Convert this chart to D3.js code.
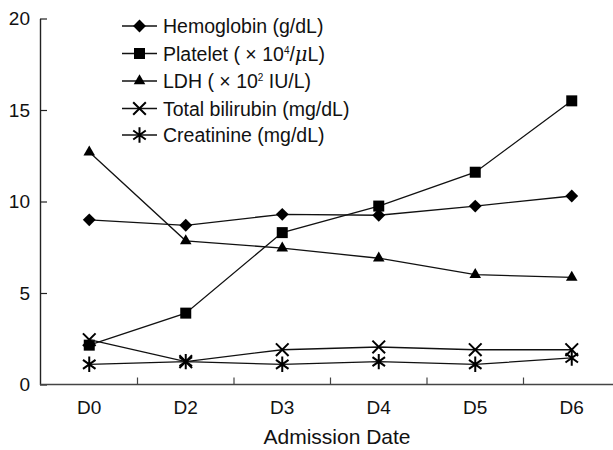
<!DOCTYPE html>
<html>
<head>
<meta charset="utf-8">
<script src="https://cdn.jsdelivr.net/npm/d3@7"></script>
<style>
  body { margin: 0; background: #fff; }
  svg text { font-family: "Liberation Sans", Arial, sans-serif; fill: #111; }
</style>
</head>
<body>
<svg id="canvas"></svg>
<script>
let categories = ["D0", "D2", "D3", "D4", "D5", "D6"];
let yTicks = [0, 5, 10, 15, 20];

let hemoglobin = [9.0, 8.7, 9.3, 9.25, 9.75, 10.3];
let platelet = [2.15, 3.9, 8.3, 9.75, 11.6, 15.5];
let ldh = [12.7, 7.85, 7.45, 6.9, 6.0, 5.85];
let bilirubin = [2.45, 1.25, 1.9, 2.05, 1.9, 1.9];
let creatinine = [1.1, 1.25, 1.1, 1.25, 1.1, 1.45];

let width = 613;
let height = 450;

let canvas = d3.select("#canvas").attr("width", width).attr("height", height);

let xScale = d3.scaleBand().domain(categories).range([41, 620]);
let yScale = d3.scaleLinear().domain([0, 20]).range([384.5, 18.5]);

// custom stroked marks for the x and the asterisk
let symX = {
  draw(ctx, size) {
    let r = Math.sqrt(size) / 2;
    ctx.moveTo(-r, -r); ctx.lineTo(r, r);
    ctx.moveTo(-r, r); ctx.lineTo(r, -r);
  }
};
let symStar = {
  draw(ctx, size) {
    let r = Math.sqrt(size) / 2;
    let a = r * Math.cos(Math.PI / 5), b = r * Math.sin(Math.PI / 5);
    ctx.moveTo(0, -r); ctx.lineTo(0, r);
    ctx.moveTo(-a, -b); ctx.lineTo(a, b);
    ctx.moveTo(-a, b); ctx.lineTo(a, -b);
  }
};

let series = [
  { name: "hemo", values: hemoglobin, type: d3.symbolDiamond2, size: 105, filled: true },
  { name: "plt", values: platelet, type: d3.symbolSquare, size: 121, filled: true },
  { name: "ldh", values: ldh, type: d3.symbolTriangle, size: 58, filled: true },
  { name: "tbil", values: bilirubin, type: symX, size: 160, filled: false },
  { name: "cr", values: creatinine, type: symStar, size: 240, filled: false }
];

let xPos = (i) => xScale(categories[i]) + xScale.bandwidth() / 2;

let drawAxes = () => {
  let yAxis = d3.axisLeft(yScale).tickValues(yTicks).tickSizeInner(-7).tickSizeOuter(0).tickPadding(10);
  let gy = canvas.append("g").attr("transform", "translate(40,0)").call(yAxis);
  gy.select(".domain").attr("stroke", "#222").attr("stroke-width", 1.4);
  gy.selectAll(".tick line").attr("stroke", "#222").attr("stroke-width", 1.2);
  gy.selectAll(".tick text").style("font-size", "19px");

  let xAxis = d3.axisBottom(xScale).tickSize(0).tickPadding(16);
  let gx = canvas.append("g").attr("transform", "translate(0,384.5)").call(xAxis);
  gx.select(".domain").attr("stroke", "#444").attr("stroke-width", 1.6)
    .attr("d", "M40,0H613");
  gx.selectAll(".tick text").style("font-size", "19px");

  // separators between categories, pointing up
  let bounds = categories.slice(1).map((c) => xScale(c));
  gx.selectAll(".sep").data(bounds).enter().append("line")
    .attr("x1", (d) => d).attr("x2", (d) => d)
    .attr("y1", 0).attr("y2", -7)
    .attr("stroke", "#444").attr("stroke-width", 1.2);

  canvas.append("text")
    .attr("x", 337).attr("y", 444)
    .attr("text-anchor", "middle")
    .style("font-size", "21px")
    .text("Admission Date");
};

let drawSeries = () => {
  let line = d3.line().x((d, i) => xPos(i)).y((d) => yScale(d));
  series.forEach((s) => {
    canvas.append("path")
      .attr("d", line(s.values))
      .attr("fill", "none")
      .attr("stroke", "#111")
      .attr("stroke-width", 1.3);
    canvas.selectAll(".m-" + s.name).data(s.values).enter().append("path")
      .attr("class", "m-" + s.name)
      .attr("transform", (d, i) => "translate(" + xPos(i) + "," + yScale(d) + ")")
      .attr("d", d3.symbol().type(s.type).size(s.size))
      .attr("fill", s.filled ? "#000" : "none")
      .attr("stroke", "#000")
      .attr("stroke-width", s.filled ? 0 : 2);
  });
};

let drawLegend = () => {
  let rowY = [26, 53.5, 81, 108.5, 135];
  let g = canvas.append("g");
  series.forEach((s, k) => {
    let y = rowY[k];
    g.append("line").attr("x1", 122).attr("x2", 157).attr("y1", y).attr("y2", y)
      .attr("stroke", "#111").attr("stroke-width", 1.3);
    g.append("path")
      .attr("transform", "translate(139.5," + y + ")")
      .attr("d", d3.symbol().type(s.type).size(s.size))
      .attr("fill", s.filled ? "#000" : "none")
      .attr("stroke", "#000")
      .attr("stroke-width", s.filled ? 0 : 2);
  });

  let t = (k) => g.append("text").attr("x", 163).attr("y", rowY[k]).attr("dy", "0.36em")
    .style("font-size", "19.5px");

  t(0).text("Hemoglobin (g/dL)");

  let p = t(1);
  p.append("tspan").text("Platelet ( \u00d7 10");
  p.append("tspan").attr("dy", -7).style("font-size", "10px").text("4");
  p.append("tspan").attr("dy", 7).text("/");
  p.append("tspan").style("font-style", "italic").style("font-family", "'DejaVu Serif', serif").text("\u03bc");
  p.append("tspan").text("L)");

  let l = t(2);
  l.append("tspan").text("LDH ( \u00d7 10");
  l.append("tspan").attr("dy", -7).style("font-size", "10px").text("2");
  l.append("tspan").attr("dy", 7).text(" IU/L)");

  t(3).text("Total bilirubin (mg/dL)");
  t(4).text("Creatinine (mg/dL)");
};

drawAxes();
drawSeries();
drawLegend();
</script>
</body>
</html>
